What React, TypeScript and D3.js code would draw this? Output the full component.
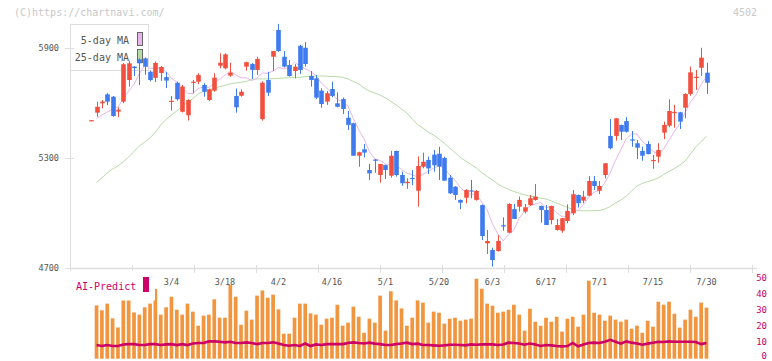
import React from 'react';
import * as d3 from 'd3';

// Daily candles (index 0 .. 115)
const opens = [
  5502, 5549, 5600, 5649, 5636, 5555, 5609, 5727, 5800, 5840,
  5845, 5772, 5739, 5765, 5743, 5608, 5712, 5554, 5535, 5713,
  5718, 5700, 5618, 5669, 5805, 5791, 5751, 5640, 5641, 5800,
  5814, 5782, 5514, 5727, 5854, 6000, 5854, 5809, 5776, 5914,
  5903, 5749, 5736, 5669, 5609, 5678, 5600, 5623, 5521, 5491,
  5314, 5349, 5236, 5293, 5209, 5263, 5205, 5340, 5209, 5164,
  5193, 5123, 5254, 5291, 5320, 5325, 5302, 5194, 5145, 5073,
  5085, 5125, 5073, 5045, 4836, 4800, 4794, 4935, 4894, 5023,
  5036, 5009, 5045, 5073, 5040, 5018, 4963, 4909, 4905, 4958,
  5000, 5100, 5069, 5096, 5176, 5123, 5209, 5422, 5422, 5482,
  5503, 5403, 5382, 5340, 5378, 5285, 5309, 5440, 5478, 5548,
  5551, 5576, 5651, 5738, 5794, 5767,
];
const highs = [
  5508, 5609, 5618, 5655, 5640, 5578, 5820, 5832, 5803, 5845,
  5850, 5780, 5828, 5803, 5771, 5640, 5718, 5700, 5622, 5727,
  5764, 5709, 5680, 5764, 5873, 5873, 5821, 5680, 5676, 5827,
  5820, 5854, 5720, 5772, 5885, 6033, 5885, 5836, 5814, 5918,
  5934, 5776, 5754, 5682, 5667, 5718, 5660, 5631, 5558, 5494,
  5336, 5378, 5269, 5296, 5269, 5265, 5340, 5342, 5227, 5191,
  5236, 5310, 5331, 5309, 5345, 5363, 5309, 5209, 5148, 5075,
  5131, 5182, 5127, 5048, 4909, 4812, 4880, 4978, 5055, 5051,
  5091, 5051, 5100, 5160, 5042, 5045, 5042, 4969, 4973, 5049,
  5127, 5102, 5122, 5203, 5203, 5176, 5273, 5514, 5518, 5484,
  5524, 5449, 5400, 5363, 5394, 5318, 5382, 5500, 5622, 5591,
  5553, 5655, 5800, 5782, 5903, 5821,
];
const lows = [
  5502, 5527, 5573, 5590, 5527, 5524, 5600, 5691, 5749, 5700,
  5755, 5720, 5716, 5722, 5683, 5560, 5615, 5550, 5506, 5655,
  5705, 5636, 5612, 5663, 5791, 5785, 5745, 5549, 5636, 5778,
  5733, 5754, 5505, 5640, 5776, 5881, 5796, 5745, 5736, 5760,
  5800, 5691, 5623, 5576, 5591, 5633, 5578, 5542, 5454, 5314,
  5254, 5305, 5182, 5221, 5167, 5187, 5194, 5200, 5151, 5133,
  5154, 5036, 5245, 5214, 5227, 5182, 5178, 5105, 5073, 5023,
  5054, 5082, 5069, 4854, 4778, 4709, 4791, 4905, 4894, 4969,
  5009, 5000, 5040, 5069, 4949, 4936, 4940, 4905, 4894, 4945,
  4991, 5031, 5055, 5096, 5127, 5105, 5191, 5349, 5396, 5400,
  5440, 5363, 5296, 5287, 5322, 5243, 5276, 5405, 5469, 5467,
  5460, 5518, 5641, 5673, 5749, 5651,
];
const closes = [
  5508, 5581, 5609, 5609, 5531, 5565, 5813, 5818, 5792, 5818,
  5800, 5727, 5820, 5798, 5724, 5614, 5622, 5691, 5618, 5718,
  5754, 5663, 5676, 5740, 5821, 5867, 5767, 5578, 5663, 5824,
  5782, 5842, 5712, 5658, 5885, 5885, 5800, 5749, 5800, 5782,
  5814, 5727, 5631, 5596, 5655, 5640, 5581, 5569, 5482, 5314,
  5333, 5331, 5218, 5289, 5269, 5236, 5314, 5209, 5164, 5172,
  5189, 5258, 5281, 5245, 5262, 5255, 5178, 5109, 5100, 5058,
  5127, 5120, 5122, 4876, 4849, 4745, 4849, 4928, 5051, 4969,
  5073, 5033, 5082, 5091, 5018, 4936, 5040, 4936, 4973, 5013,
  5104, 5055, 5091, 5176, 5149, 5149, 5273, 5355, 5518, 5445,
  5445, 5398, 5358, 5314, 5323, 5291, 5345, 5482, 5558, 5553,
  5500, 5651, 5769, 5745, 5849, 5712,
];

// Moving averages
const ma5 = [
  null, 5518, 5536, 5553, 5568, 5579, 5625, 5667, 5704, 5761,
  5808, 5791, 5791, 5793, 5774, 5737, 5716, 5690, 5654, 5653,
  5681, 5689, 5686, 5710, 5731, 5753, 5774, 5755, 5739, 5740,
  5723, 5738, 5765, 5764, 5776, 5796, 5788, 5795, 5824, 5803,
  5789, 5774, 5751, 5710, 5685, 5650, 5621, 5608, 5585, 5517,
  5456, 5406, 5336, 5297, 5288, 5269, 5265, 5263, 5238, 5219,
  5210, 5198, 5213, 5229, 5247, 5260, 5244, 5210, 5181, 5140,
  5114, 5103, 5105, 5061, 5019, 4942, 4888, 4849, 4884, 4908,
  4974, 5011, 5042, 5050, 5059, 5032, 5033, 5004, 4981, 4980,
  5013, 5016, 5047, 5088, 5115, 5124, 5168, 5220, 5289, 5348,
  5407, 5432, 5433, 5392, 5368, 5337, 5326, 5351, 5400, 5446,
  5488, 5549, 5606, 5644, 5703, 5745,
];
const ma25 = [
  null, 5169, 5193, 5220, 5242, 5258, 5281, 5307, 5337, 5367,
  5389, 5411, 5443, 5482, 5512, 5536, 5558, 5583, 5605, 5626,
  5651, 5665, 5674, 5682, 5691, 5698, 5706, 5711, 5715, 5719,
  5730, 5733, 5733, 5733, 5734, 5736, 5738, 5739, 5741, 5742,
  5745, 5748, 5749, 5749, 5748, 5746, 5745, 5742, 5733, 5719,
  5705, 5684, 5667, 5656, 5645, 5629, 5610, 5591, 5569, 5547,
  5514, 5484, 5465, 5443, 5427, 5405, 5383, 5356, 5332, 5304,
  5285, 5266, 5247, 5222, 5201, 5182, 5160, 5143, 5130, 5119,
  5109, 5101, 5094, 5089, 5083, 5078, 5067, 5056, 5044, 5032,
  5021, 5014, 5014, 5014, 5014, 5015, 5023, 5037, 5056, 5073,
  5094, 5122, 5149, 5163, 5173, 5182, 5193, 5212, 5228, 5244,
  5263, 5285, 5323, 5362, 5392, 5419,
];

// Lower panel: volume bars and AI-Predict line (0..50 scale)
const volumes = [
  null, 32.7, 29.6, 33.8, 24.6, 18.9, 38, 37, 28.3, 26.9, 31.5,
  33.8, 43, 26.9, 31.5, 38.1, 30, 26.9, 33.8, 28.8, 20,
  26.3, 26.9, 36.5, 25, 25, 45.6, 38.1, 20.6, 29.4, 23.8,
  38.8, 42, 37.5, 39.4, 30.2, 15, 15, 25, 33.8, 33.8,
  27.7, 26.9, 20.6, 24.4, 25, 33.1, 20, 21.9, 31.9, 25.6,
  15.6, 24.4, 21.9, 38.8, 16.9, 41.5, 35.8, 30.8, 20, 25,
  35.8, 34.4, 21.9, 28.8, 28.1, 21.3, 24.4, 25, 23.1, 23.8,
  24.4, 49.4, 43.1, 33.8, 32.5, 28.1, 28.8, 30, 33.1, 26.9,
  16.9, 30.6, 22.5, 20, 25, 22.5, 25.6, 16.3, 24.4, 25.6,
  19.4, 26.9, 48.1, 28.1, 26.9, 23.1, 26.3, 23.8, 22.5, 23.8,
  18.1, 20, 15.6, 23.1, 19.4, 35, 33.1, 35, 27.5, 18.8,
  23.8, 30, 25.6, 34.4, 31.3,
];
const aiPredict = [
  null, 7.9, 7.3, 7.9, 7.3, 7.3, 8.3, 8.5, 8.5, 7.9, 7.9,
  8.5, 8.5, 7.9, 8.3, 8.5, 7.9, 8.5, 7.9, 8.9, 9.2,
  9.2, 10.2, 10.2, 10, 9.6, 10, 9.2, 9.2, 9.6, 9.2,
  8.5, 9.2, 9.2, 9.6, 8.9, 7.9, 7.5, 7.9, 7.3, 8.9,
  7.3, 8.3, 7.9, 8.5, 8.5, 8.5, 8.5, 9.2, 9.6, 9.2,
  8.9, 9.4, 8.8, 8.5, 7.9, 7.9, 8.5, 8.9, 9.4, 8.5,
  8.8, 7.9, 7.9, 7.7, 7.5, 7.7, 8.1, 8.1, 7.9, 7.7,
  8.3, 8.1, 8.3, 8.3, 8.3, 7.9, 8.3, 9.4, 9.2, 8.9,
  8.1, 8.9, 8.3, 7.3, 7.9, 7.7, 7.3, 7.1, 7.3, 9.2,
  7.1, 8.3, 9.2, 9.4, 9.2, 10, 11.2, 10, 8.8, 10.2,
  9.4, 8.9, 8.1, 8.8, 9.4, 10, 9.8, 10.2, 10, 10,
  10, 10, 9.8, 8.5, 9.2,
];

const dateLabels = ['3/4', '3/18', '4/2', '4/16', '5/1', '5/20', '6/3', '6/17', '7/1', '7/15', '7/30'];
const dateLabelIndex = [15, 25, 35, 45, 55, 65, 75, 85, 95, 105, 115];
const priceTicks = [5900, 5300, 4700];
const volumeTicks = [50, 40, 30, 20, 10, 0];

const UP = '#f24f3f';
const DOWN = '#3f7aef';
const MA5_COLOR = '#e8b6ec';
const MA25_COLOR = '#b6dca6';
const AI_COLOR = '#cc0066';
const VOL_COLOR = '#f2953f';
const AXIS = '#dddddd';
const MONO = '"DejaVu Sans Mono", "Liberation Mono", monospace';

export default function App() {
  const x = d3.scaleLinear().domain([0, 115]).range([91.2, 706.5]);
  const y = d3.scaleLinear().domain([4700, 5900]).range([268.3, 48.3]);
  const yv = d3.scaleLinear().domain([0, 50]).range([357.7, 277.7]);
  const gridX = d3.scaleLinear().domain([0, 11]).range([70, 752]);

  const priceLine = d3
    .line<number | null>()
    .defined((v) => v != null)
    .x((_, i) => x(i))
    .y((v) => y(v as number));
  const aiLine = d3
    .line<number | null>()
    .defined((v) => v != null)
    .x((_, i) => x(i))
    .y((v) => yv(v as number));

  const bodyW = 4.6;
  const volW = 3.7;

  return (
    <svg
      width={772}
      height={361}
      style={{ position: 'absolute', left: 0, top: 0, background: '#fff' }}
      fontFamily={MONO}
    >
      <rect x={0} y={0} width={772} height={361} fill="#fff" />

      {/* header */}
      <text x={14} y={12} fontSize={10} fill="#c8c8c8" dominantBaseline="central">
        (C)https://chartnavi.com/
      </text>
      <text x={757} y={12} fontSize={10} fill="#c8c8c8" textAnchor="end" dominantBaseline="central">
        4502
      </text>

      {/* legend box (drawn beneath the candles) */}
      <rect x={70.5} y={24.5} width={78} height={46} fill="#fff" stroke={AXIS} strokeWidth={1} />
      <text x={129} y={40} fontSize={10} fill="#555" textAnchor="end" dominantBaseline="central">
        5-day MA
      </text>
      <rect x={137.5} y={32.5} width={5} height={13} fill={MA5_COLOR} stroke="#666" strokeWidth={1} />
      <text x={129} y={57} fontSize={10} fill="#555" textAnchor="end" dominantBaseline="central">
        25-day MA
      </text>
      <rect x={137.5} y={49.5} width={5} height={13} fill={MA25_COLOR} stroke="#666" strokeWidth={1} />

      {/* axes */}
      <line x1={70.5} y1={24} x2={70.5} y2={268} stroke={AXIS} strokeWidth={1} />
      <line x1={70} y1={268.5} x2={757} y2={268.5} stroke={AXIS} strokeWidth={1.5} />
      {d3.range(12).map((k) => (
        <line
          key={'gx' + k}
          x1={Math.round(gridX(k)) + 0.5}
          x2={Math.round(gridX(k)) + 0.5}
          y1={265}
          y2={273}
          stroke={AXIS}
          strokeWidth={1}
        />
      ))}
      {priceTicks.map((p) => (
        <g key={'pt' + p}>
          <line x1={65} x2={74} y1={Math.round(y(p)) + 0.5} y2={Math.round(y(p)) + 0.5} stroke={AXIS} />
          <text x={59} y={y(p)} fontSize={8.5} fill="#555" textAnchor="end" dominantBaseline="central">
            {p}
          </text>
        </g>
      ))}

      {/* moving averages */}
      <path d={priceLine(ma25) || ''} fill="none" stroke={MA25_COLOR} strokeWidth={1} />
      <path d={priceLine(ma5) || ''} fill="none" stroke={MA5_COLOR} strokeWidth={1} />

      {/* candles */}
      {closes.map((c, i) => {
        const o = opens[i];
        const col = c >= o ? UP : DOWN;
        const cx = x(i);
        const top = y(Math.max(o, c));
        const bot = y(Math.min(o, c));
        return (
          <g key={'c' + i}>
            <line
              x1={Math.round(cx) + 0.5}
              x2={Math.round(cx) + 0.5}
              y1={y(highs[i])}
              y2={y(lows[i])}
              stroke={col}
              strokeWidth={1}
            />
            <rect
              x={Math.round(cx) + 0.5 - bodyW / 2}
              y={top}
              width={bodyW}
              height={Math.max(1.2, bot - top)}
              fill={col}
            />
          </g>
        );
      })}

      {/* volume bars */}
      {volumes.map((v, i) =>
        v == null ? null : (
          <rect
            key={'v' + i}
            x={x(i) - volW / 2}
            y={yv(v)}
            width={volW}
            height={yv(0) - yv(v) + 1}
            fill={VOL_COLOR}
          />
        )
      )}

      {/* label panel over the lower chart */}
      <rect x={70} y={271} width={85} height={29.5} fill="#fff" />
      <text x={76} y={286} fontSize={10} fill={AI_COLOR} dominantBaseline="central">
        AI-Predict
      </text>
      <rect x={143} y={277} width={6} height={15} fill={AI_COLOR} />

      {/* AI-Predict line */}
      <path d={aiLine(aiPredict) || ''} fill="none" stroke={AI_COLOR} strokeWidth={2.6} strokeLinejoin="miter" />

      {/* date labels */}
      {dateLabels.map((d, k) => (
        <text
          key={'d' + d}
          x={x(dateLabelIndex[k])}
          y={281.5}
          fontSize={8.5}
          fill="#555"
          textAnchor="middle"
          dominantBaseline="central"
        >
          {d}
        </text>
      ))}

      {/* right axis for lower panel */}
      {volumeTicks.map((t) => (
        <text
          key={'vt' + t}
          x={767}
          y={Math.min(yv(t), 355.5)}
          fontSize={9}
          fill={AI_COLOR}
          textAnchor="end"
          dominantBaseline="central"
        >
          {t}
        </text>
      ))}
    </svg>
  );
}
